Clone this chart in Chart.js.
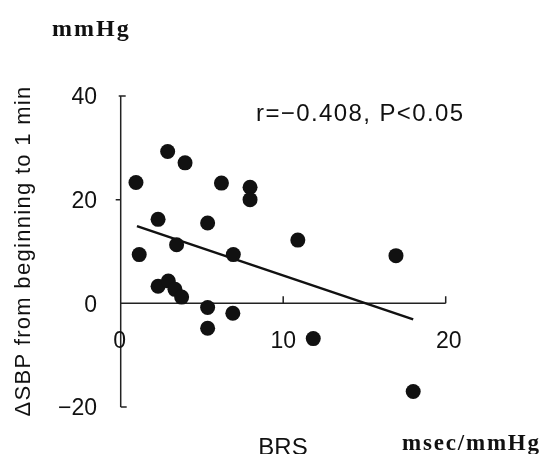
<!DOCTYPE html>
<html>
<head>
<meta charset="utf-8">
<script src="https://cdn.jsdelivr.net/npm/chart.js@4"></script>
<style>
html,body{margin:0;padding:0;background:#fff;}
#wrap{width:546px;height:454px;position:relative;}
</style>
</head>
<body>
<div id="wrap"><canvas id="c" width="546" height="454"></canvas></div>
<script>
// ---- data ----
const brs = [0.94, 2.89, 3.96, 6.2, 7.96, 7.96, 2.3, 5.35, 10.9, 1.14, 3.44, 6.93, 2.3, 2.93, 3.34, 3.75, 5.35, 6.9, 5.35, 11.85, 16.94, 18.0];
const dsbp = [23.3, 29.3, 27.1, 23.2, 22.4, 20.0, 16.2, 15.5, 12.2, 9.4, 11.3, 9.4, 3.3, 4.3, 2.7, 1.2, -0.8, -1.9, -4.8, -6.8, 9.2, -17.0];
const fitX = [1.0, 18.0];
const fitY = [14.9, -3.1];
const xTicks = [0, 10, 20];
const yTicks = [40, 20, 0, -20];
const yTickLabels = ['40', '20', '0', '\u221220'];
const statText = 'r=\u22120.408, P\u003c0.05';

const points = brs.map((x, i) => ({x: x, y: dsbp[i]}));
const fitLine = fitX.map((x, i) => ({x: x, y: fitY[i]}));

const axesPlugin = {
  id: 'axesPlugin',
  beforeDatasetsDraw(chart) {
    const ctx = chart.ctx;
    const xs = chart.scales.x, ys = chart.scales.y;
    const x0 = xs.getPixelForValue(0);
    const y0 = ys.getPixelForValue(0);
    ctx.save();
    ctx.strokeStyle = '#222';
    ctx.lineWidth = 1.5;
    ctx.beginPath();
    // y axis
    ctx.moveTo(x0, ys.getPixelForValue(40));
    ctx.lineTo(x0, ys.getPixelForValue(-20));
    // y ticks
    let p = ys.getPixelForValue(40);
    ctx.moveTo(x0 - 2, p); ctx.lineTo(x0 + 5, p);
    p = ys.getPixelForValue(20);
    ctx.moveTo(x0 - 5, p); ctx.lineTo(x0, p);
    p = ys.getPixelForValue(-20);
    ctx.moveTo(x0, p); ctx.lineTo(x0 + 6, p);
    // x axis
    ctx.moveTo(x0, y0);
    ctx.lineTo(xs.getPixelForValue(20), y0);
    [10, 20].forEach(v => {
      const px = xs.getPixelForValue(v);
      ctx.moveTo(px, y0); ctx.lineTo(px, y0 - 7);
    });
    ctx.stroke();

    // tick labels
    ctx.fillStyle = '#111';
    ctx.font = '23px "Liberation Sans", Arial, sans-serif';
    ctx.textAlign = 'right';
    ctx.textBaseline = 'middle';
    yTicks.forEach((v, i) => {
      ctx.fillText(yTickLabels[i], 97, ys.getPixelForValue(v) + 2);
    });
    ctx.textAlign = 'center';
    xTicks.forEach(v => {
      ctx.fillText(String(v), xs.getPixelForValue(v) - (v === 0 ? 1 : (v === 10 ? 0 : -3)), 342);
    });
    ctx.restore();
  },
  afterDraw(chart) {
    const ctx = chart.ctx;
    ctx.save();
    ctx.fillStyle = '#111';
    // stat text
    ctx.font = '24px "Liberation Sans", Arial, sans-serif';
    ctx.letterSpacing = '1.4px';
    ctx.textAlign = 'left';
    ctx.textBaseline = 'alphabetic';
    ctx.fillText(statText, 256, 121);
    // BRS
    ctx.letterSpacing = '0px';
    ctx.font = '24px "Liberation Sans", Arial, sans-serif';
    ctx.textAlign = 'center';
    ctx.fillText('BRS', 283, 455);
    // units
    ctx.font = 'bold 24px "Liberation Serif", "Times New Roman", serif';
    ctx.letterSpacing = '2px';
    ctx.textAlign = 'left';
    ctx.fillText('mmHg', 52, 36);
    ctx.font = 'bold 23px "Liberation Serif", "Times New Roman", serif';
    ctx.letterSpacing = '1.8px';
    ctx.fillText('msec/mmHg', 402, 450);
    // y title
    ctx.translate(24, 251);
    ctx.rotate(-Math.PI / 2);
    ctx.font = '22px "Liberation Sans", Arial, sans-serif';
    ctx.letterSpacing = '1.3px';
    ctx.textAlign = 'center';
    ctx.textBaseline = 'middle';
    ctx.fillText('\u0394SBP from beginning to 1 min', 0, 0);
    ctx.restore();
  }
};

new Chart(document.getElementById('c'), {
  type: 'scatter',
  data: {
    datasets: [
      {
        type: 'line',
        data: fitLine,
        borderColor: '#111',
        borderWidth: 2.5,
        pointRadius: 0,
        fill: false,
        tension: 0,
        clip: false,
        order: 2
      },
      {
        data: points,
        backgroundColor: '#111',
        borderColor: '#111',
        borderWidth: 0,
        pointRadius: 7.5,
        clip: false,
        order: 1
      }
    ]
  },
  options: {
    responsive: false,
    animation: false,
    devicePixelRatio: 1,
    layout: { padding: { left: 120.7, right: 100.3, top: 96, bottom: 47 } },
    plugins: { legend: { display: false }, tooltip: { enabled: false } },
    scales: {
      x: { type: 'linear', min: 0, max: 20, display: false },
      y: { type: 'linear', min: -20, max: 40, display: false }
    }
  },
  plugins: [axesPlugin]
});
</script>
</body>
</html>
